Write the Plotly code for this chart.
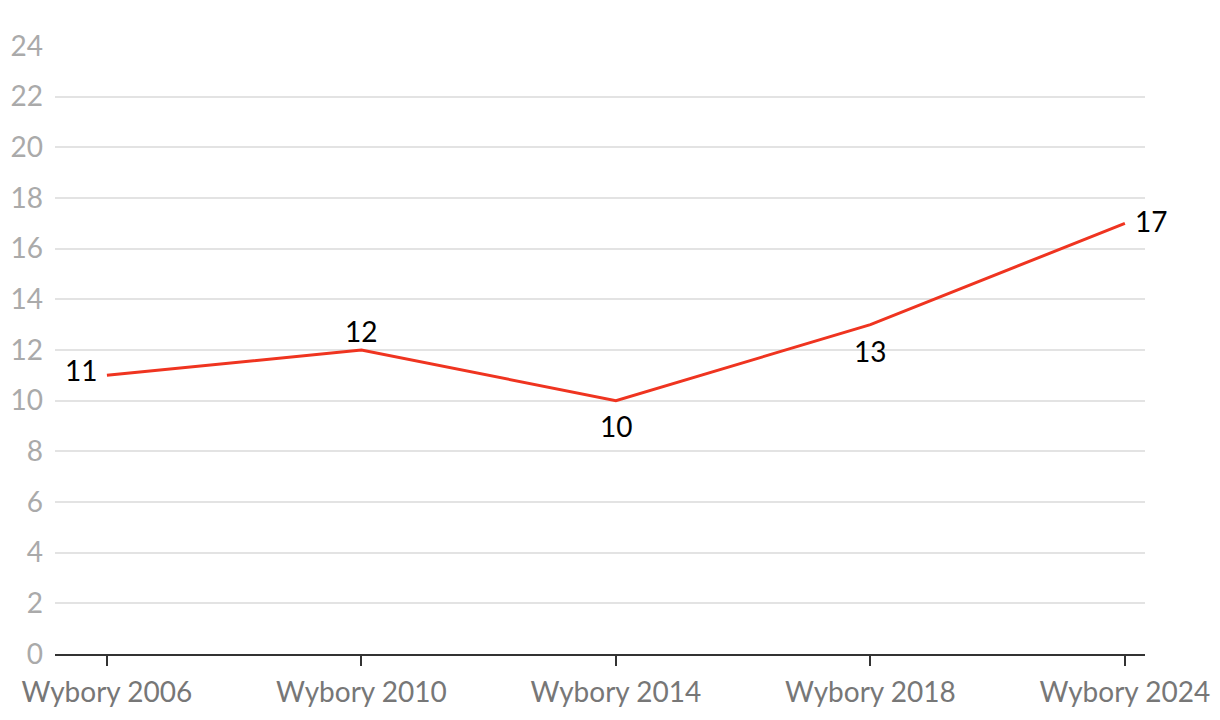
import plotly.graph_objects as go

categories = ["Wybory 2006", "Wybory 2010", "Wybory 2014", "Wybory 2018", "Wybory 2024"]
values = [11, 12, 10, 13, 17]
label_xshift = [-26, 0, 0, 0, 26]
label_yshift = [5, 19, -25, -26, 2]
y_ticks = list(range(0, 25, 2))

x_idx = list(range(len(categories)))

fig = go.Figure()
fig.add_trace(go.Scatter(
    x=x_idx, y=values,
    mode="lines",
    line=dict(color="#ef3420", width=3),
    hoverinfo="skip",
))

for xi, v, dx, dy in zip(x_idx, values, label_xshift, label_yshift):
    fig.add_annotation(
        x=xi, y=v, text=str(v), showarrow=False,
        xanchor="center", yanchor="middle",
        xshift=dx, yshift=dy,
        font=dict(family="Lato", size=28, color="#000000"),
    )

fig.update_layout(
    width=1204, height=704,
    margin=dict(l=47, r=67, t=38, b=58),
    paper_bgcolor="white", plot_bgcolor="white",
    showlegend=False,
    font=dict(family="Lato"),
    xaxis=dict(
        range=[-0.204, 4.079],
        tickmode="array", tickvals=x_idx, ticktext=categories,
        showgrid=False, zeroline=False, automargin=False,
        showline=True, linecolor="#333333", linewidth=2,
        ticks="outside", ticklen=10, tickwidth=2, tickcolor="#333333",
        ticklabelstandoff=2,
        tickfont=dict(family="Lato", size=28, color="#777777"),
    ),
    yaxis=dict(
        range=[0, 24],
        tickmode="array", tickvals=y_ticks, automargin=False,
        showgrid=True, gridcolor="#e3e3e3", gridwidth=2,
        zeroline=False, showline=False,
        ticks="", ticklabelstandoff=11,
        tickfont=dict(family="Lato", size=28, color="#aaaaaa"),
    ),
)

fig.write_html("out.html")
